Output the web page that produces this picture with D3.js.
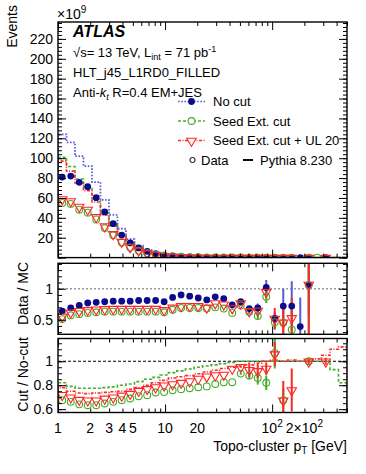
<!DOCTYPE html>
<html>
<head>
<meta charset="utf-8">
<script src="https://cdn.jsdelivr.net/npm/d3@7"></script>
<style>
  body { margin: 0; background: #fff; }
  svg { font-family: "Liberation Sans", Arial, Helvetica, sans-serif; }
</style>
</head>
<body>
<svg id="chart" width="366" height="474"></svg>
<script>
/* ---- binning: 34 log bins, topo-cluster pT [GeV] ---- */
const binEdges = [1, 1.2003, 1.4408, 1.7294, 2.0758, 2.4917, 2.9908, 3.5899, 4.3091,
  5.1723, 6.2084, 7.4521, 8.945, 10.737, 12.888, 15.469, 18.63, 22.36, 26.85, 32.24,
  38.69, 46.45, 55.77, 66.95, 80.36, 96.5, 115.9, 139.1, 167.0, 200.5, 240.7, 288.9,
  346.9, 416.4, 500];

/* ---- main panel, Events x10^9 ---- */
const mcNoCut    = [124, 116, 102, 92, 76, 58, 43, 29, 18.5, 12, 7.8, 4.9, 3.1, 1.9, 1.2, 0.75, 0.48, 0.3, 0.19, 0.12, 0.075, 0.05, 0.03, 0.02, 0.012, 0.008, 0.005, 0.003, 0.002, 0.0012, 0.0008, 0.0005, 0.0003, 0.0002];
const mcSeed     = [101, 91.6, 79, 71.3, 59, 45.2, 33.8, 22.9, 14.8, 10, 6.6, 4.3, 2.8, 1.75, 1.12, 0.7, 0.46, 0.29, 0.18, 0.118, 0.074, 0.05, 0.03, 0.02, 0.012, 0.008, 0.005, 0.003, 0.002, 0.0012, 0.0008, 0.0005, 0.0003, 0.0002];
const mcSeedUL   = [97, 87, 75, 67.2, 55.9, 42.9, 32, 21.8, 14.2, 9.4, 6.2, 4.0, 2.6, 1.63, 1.04, 0.66, 0.43, 0.27, 0.176, 0.113, 0.071, 0.048, 0.029, 0.02, 0.012, 0.008, 0.005, 0.003, 0.002, 0.0012, 0.0008, 0.0005, 0.0003, 0.0002];
const dataNoCut  = [81, 82, 75.7, 71.3, 60.3, 45.9, 34.1, 22.7, 14.8, 9.7, 6.3, 4.0, 2.45, 1.63, 1.08, 0.66, 0.41, 0.25, 0.165, 0.1, 0.055, 0.04, 0.02, 0.014, 0.012, 0.004, 0.0036, 0.0022, 0.0008, 0.0013, null, 0.0005, null, null];
const dataSeed   = [55, 54, 48.2, 45.2, 38.4, 29.7, 22.5, 15.3, 10.2, 6.9, 4.5, 3.0, 1.8, 1.24, 0.83, 0.5, 0.32, 0.2, 0.135, 0.083, 0.046, 0.036, 0.018, 0.012, 0.01, 0.004, 0.003, 0.0015, null, 0.0013, 0.001, null, null, null];
const dataSeedUL = [59, 57, 51.5, 48.5, 41, 31.7, 23.9, 16.1, 10.7, 7.3, 4.8, 3.1, 1.96, 1.3, 0.89, 0.55, 0.35, 0.22, 0.147, 0.09, 0.052, 0.038, 0.02, 0.013, 0.011, 0.004, 0.003, 0.0017, null, 0.0013, null, 0.0008, null, null];

/* ---- Data / MC ---- */
const dmcNoCut     = [0.64, 0.69, 0.73, 0.77, 0.78, 0.79, 0.80, 0.80, 0.80, 0.81, 0.81, 0.81, 0.79, 0.86, 0.90, 0.88, 0.85, 0.82, 0.87, 0.84, 0.74, 0.79, 0.68, 0.69, 1.02, 0.52, 0.72, 0.72, 0.39, 1.06, null, null, null, null];
const dmcNoCutErr  = [0, 0, 0, 0, 0, 0, 0, 0, 0, 0, 0, 0, 0, 0, 0, 0, 0, 0, 0, 0, 0.01, 0.01, 0.03, 0.07, 0.12, 0.1, 0.28, 0.4, 0.47, 0.5, 0, 0, 0, 0];
const dmcSeed      = [0.51, 0.57, 0.59, 0.61, 0.62, 0.63, 0.63, 0.63, 0.63, 0.63, 0.63, 0.63, 0.62, 0.66, 0.69, 0.69, 0.69, 0.68, 0.70, 0.68, 0.61, 0.73, 0.63, 0.56, 0.87, 0.46, 0.45, 0.34, null, 1.06, null, null, null, null];
const dmcSeedErr   = [0, 0, 0, 0, 0, 0, 0, 0, 0, 0, 0, 0, 0, 0, 0, 0, 0, 0, 0, 0, 0.01, 0.01, 0.04, 0.05, 0.1, 0.12, 0.3, 0.35, 0, 1.0, 0, 0, 0, 0];
const dmcSeedUL    = [0.555, 0.62, 0.645, 0.66, 0.67, 0.675, 0.68, 0.68, 0.68, 0.68, 0.68, 0.68, 0.66, 0.70, 0.725, 0.725, 0.725, 0.70, 0.77, 0.75, 0.69, 0.77, 0.64, 0.65, 0.95, 0.52, 0.46, 0.53, null, 1.07, null, null, null, null];
const dmcSeedULErr = [0, 0, 0, 0, 0, 0, 0, 0, 0, 0, 0, 0, 0, 0, 0, 0, 0, 0, 0, 0, 0.01, 0.01, 0.03, 0.05, 0.05, 0.17, 0.3, 0.32, 0, 1.0, 0, 0, 0, 0];

/* ---- Cut / No-cut ---- */
const cutMcSeed       = [0.82, 0.79, 0.775, 0.775, 0.775, 0.78, 0.786, 0.80, 0.81, 0.83, 0.85, 0.865, 0.885, 0.905, 0.92, 0.935, 0.95, 0.96, 0.97, 0.98, 0.99, 1.0, 1.0, 1.0, 1.0, 1.0, 1.0, 1.0, 1.0, 1.0, 1.0, 1.0, 0.93, 0.82];
const cutMcSeedUL     = [0.78, 0.75, 0.735, 0.73, 0.735, 0.74, 0.745, 0.75, 0.765, 0.78, 0.80, 0.82, 0.84, 0.86, 0.87, 0.88, 0.895, 0.91, 0.925, 0.94, 0.95, 0.96, 0.97, 0.985, 1.0, 1.01, 1.0, 1.01, 1.0, 1.0, 1.02, 1.05, 1.1, 1.12];
const cutDataSeed     = [0.675, 0.661, 0.64, 0.633, 0.633, 0.647, 0.661, 0.675, 0.689, 0.708, 0.717, 0.739, 0.744, 0.758, 0.767, 0.775, 0.783, 0.79, 0.81, 0.825, 0.825, 0.897, 0.88, 0.86, 0.82, 1.07, 0.675, null, null, 1.0, null, null, null, null];
const cutDataSeedErr  = [0, 0, 0, 0, 0, 0, 0, 0, 0, 0, 0, 0, 0, 0, 0, 0, 0, 0, 0, 0, 0, 0.01, 0.03, 0.055, 0.06, 0.13, 0.1, 0, 0, 0.02, 0, 0, 0, 0];
const cutDataSeedUL   = [0.72, 0.70, 0.68, 0.675, 0.675, 0.69, 0.70, 0.715, 0.73, 0.755, 0.77, 0.785, 0.80, 0.81, 0.822, 0.835, 0.856, 0.875, 0.885, 0.89, 0.94, 0.955, 0.93, 0.92, 0.94, 1.06, 0.675, 0.76, null, 1.0, null, 1.0, null, null];
const cutDataSeedULErr= [0, 0, 0, 0, 0, 0, 0, 0, 0, 0, 0, 0, 0, 0, 0, 0, 0, 0, 0, 0, 0, 0.01, 0.06, 0.06, 0.05, 0.1, 0.16, 0.18, 0, 0.02, 0, 0.03, 0, 0];

/* ---- axis ticks ---- */
const xMajor = [1, 10, 100];
const xMinor = [2, 3, 4, 5, 6, 7, 8, 9, 20, 30, 40, 50, 60, 70, 80, 90, 200, 300, 400, 500];
const xTickLabels = [[1, "1"], [2, "2"], [3, "3"], [4, "4"], [5, "5"], [10, "10"], [20, "20"], [100, "10", "2"], [200, "2×10", "2"]];
const mainYMajor = d3.range(0, 237, 20);
const mainYMinor = d3.range(0, 237, 4);
const mainYLabels = d3.range(20, 237, 20);
const ratioYMajor = [0.5, 1.0];
const ratioYMinor = [0.3, 0.4, 0.5, 0.6, 0.7, 0.8, 0.9, 1.0, 1.1, 1.2, 1.3, 1.4];
const cutYMajor = [0.6, 0.8, 1.0];
const cutYMinor = [0.6, 0.65, 0.7, 0.75, 0.8, 0.85, 0.9, 0.95, 1.0, 1.05, 1.1, 1.15];

/* ---- colours ---- */
const cBlue = "#0b0b8e", cBlueLine = "#5b5be0", cGreen = "#46ad2c", cRed = "#ff2626";

const svg = d3.select("#chart");
svg.append("rect").attr("width", 366).attr("height", 474).attr("fill", "#fff");

const X0 = 58, X1 = 347;
const x = d3.scaleLog().domain([1, 500]).range([X0, X1]);
const yMain  = d3.scaleLinear([0, 237], [257.6, 22]);
const yRatio = d3.scaleLinear([0.265, 1.41], [334.3, 263.3]);
const yCut   = d3.scaleLinear([0.572, 1.19], [412.5, 338.5]);
const centre = i => Math.sqrt(binEdges[i] * binEdges[i + 1]);

let clipN = 0;
function panel(y) {
  const id = "clip" + (++clipN);
  const [yb, yt] = y.range();
  svg.append("clipPath").attr("id", id)
    .append("rect").attr("x", X0).attr("y", yt).attr("width", X1 - X0).attr("height", yb - yt);
  return svg.append("g").attr("clip-path", `url(#${id})`);
}

function stepPath(vals, y) {
  const base = y.range()[0] + 20;
  const pts = [[x(binEdges[0]), base]];
  vals.forEach((v, i) => {
    pts.push([x(binEdges[i]), y(v)], [x(binEdges[i + 1]), y(v)]);
  });
  pts.push([x(binEdges[vals.length]), base]);
  return d3.line()(pts);
}

function hist(g, vals, y, colour, dash, width) {
  g.append("path").attr("d", stepPath(vals, y))
    .attr("fill", "none").attr("stroke", colour)
    .attr("stroke-width", width).attr("stroke-dasharray", dash);
}

function errBars(g, vals, errs, y, colour, width) {
  vals.forEach((v, i) => {
    if (v == null || !errs[i]) return;
    g.append("line")
      .attr("x1", x(centre(i))).attr("x2", x(centre(i)))
      .attr("y1", y(v - errs[i])).attr("y2", y(v + errs[i]))
      .attr("stroke", colour).attr("stroke-width", width);
  });
}

const triangle = d3.symbol().type(d3.symbolTriangle).size(38)();
function markers(g, vals, y, kind) {
  const pts = vals.map((v, i) => [i, v]).filter(d => d[1] != null);
  if (kind === "dot") {
    g.selectAll(null).data(pts).enter().append("circle")
      .attr("cx", d => x(centre(d[0]))).attr("cy", d => y(d[1])).attr("r", 3.4)
      .attr("fill", cBlue);
  } else if (kind === "ring") {
    g.selectAll(null).data(pts).enter().append("circle")
      .attr("cx", d => x(centre(d[0]))).attr("cy", d => y(d[1])).attr("r", 3.4)
      .attr("fill", "none").attr("stroke", cGreen).attr("stroke-width", 1.1);
  } else {
    g.selectAll(null).data(pts).enter().append("path")
      .attr("d", triangle)
      .attr("transform", d => `translate(${x(centre(d[0]))},${y(d[1]) + 0.5}) rotate(180)`)
      .attr("fill", "none").attr("stroke", cRed).attr("stroke-width", 1.1);
  }
}

function axes(y, yMajor, yMinor, yLabels, yFmt) {
  const g = svg.append("g");
  const [yb, yt] = y.range();
  const put = (axis, tr) => g.append("g").attr("transform", tr).call(axis)
    .call(s => s.select(".domain").remove());
  put(d3.axisLeft(y).tickValues(yMajor).tickSize(-8).tickFormat(""), `translate(${X0},0)`);
  put(d3.axisLeft(y).tickValues(yMinor).tickSize(-4).tickFormat(""), `translate(${X0},0)`);
  put(d3.axisRight(y).tickValues(yMajor).tickSize(-8).tickFormat(""), `translate(${X1},0)`);
  put(d3.axisRight(y).tickValues(yMinor).tickSize(-4).tickFormat(""), `translate(${X1},0)`);
  put(d3.axisBottom(x).tickValues(xMajor).tickSize(-8).tickFormat(""), `translate(0,${yb})`);
  put(d3.axisBottom(x).tickValues(xMinor).tickSize(-4).tickFormat(""), `translate(0,${yb})`);
  put(d3.axisTop(x).tickValues(xMajor).tickSize(-8).tickFormat(""), `translate(0,${yt})`);
  put(d3.axisTop(x).tickValues(xMinor).tickSize(-4).tickFormat(""), `translate(0,${yt})`);
  g.selectAll(".tick line").attr("stroke", "#000");
  g.append("rect").attr("x", X0).attr("y", yt).attr("width", X1 - X0).attr("height", yb - yt)
    .attr("fill", "none").attr("stroke", "#000").attr("stroke-width", 1.4);
  g.selectAll(null).data(yLabels).enter().append("text")
    .attr("x", 53).attr("y", d => y(d)).attr("dy", "0.36em")
    .attr("text-anchor", "end").attr("font-size", 14)
    .text(yFmt);
}

/* ---- main panel ---- */
const gMain = panel(yMain);
hist(gMain, mcNoCut, yMain, cBlueLine, "1.6,1.6", 1.8);
hist(gMain, mcSeed, yMain, cGreen, "3,2", 1.6);
hist(gMain, mcSeedUL, yMain, cRed, "3,1.5,1,1.5", 1.6);
markers(gMain, dataNoCut, yMain, "dot");
markers(gMain, dataSeed, yMain, "ring");
markers(gMain, dataSeedUL, yMain, "tri");
axes(yMain, mainYMajor, mainYMinor, mainYLabels, d => d);

/* ---- Data / MC panel ---- */
const gRatio = panel(yRatio);
gRatio.append("line").attr("x1", X0).attr("x2", X1)
  .attr("y1", yRatio(1)).attr("y2", yRatio(1))
  .attr("stroke", "#999").attr("stroke-width", 1.6).attr("stroke-dasharray", "2,2");
errBars(gRatio, dmcNoCut, dmcNoCutErr, yRatio, "#5a5ad0", 2);
errBars(gRatio, dmcSeed, dmcSeedErr, yRatio, cGreen, 2);
errBars(gRatio, dmcSeedUL, dmcSeedULErr, yRatio, cRed, 2);
markers(gRatio, dmcNoCut, yRatio, "dot");
markers(gRatio, dmcSeed, yRatio, "ring");
markers(gRatio, dmcSeedUL, yRatio, "tri");
axes(yRatio, ratioYMajor, ratioYMinor, [0.5, 1], d => d === 1 ? "1" : "0.5");

/* ---- Cut / No-cut panel ---- */
const gCut = panel(yCut);
gCut.append("line").attr("x1", X0).attr("x2", X1)
  .attr("y1", yCut(1)).attr("y2", yCut(1))
  .attr("stroke", "#000").attr("stroke-width", 1).attr("stroke-dasharray", "3,2");
hist(gCut, cutMcSeed, yCut, cGreen, "3,2", 1.6);
hist(gCut, cutMcSeedUL, yCut, cRed, "3,1.5,1,1.5", 1.6);
errBars(gCut, cutDataSeed, cutDataSeedErr, yCut, cGreen, 2);
errBars(gCut, cutDataSeedUL, cutDataSeedULErr, yCut, cRed, 2);
markers(gCut, cutDataSeed, yCut, "ring");
markers(gCut, cutDataSeedUL, yCut, "tri");
axes(yCut, cutYMajor, cutYMinor, [0.6, 0.8, 1], d => d === 1 ? "1" : d.toFixed(1));

/* ---- x tick labels + titles ---- */
const xl = svg.append("g").attr("font-size", 14).attr("text-anchor", "middle");
xTickLabels.forEach(([v, t, sup]) => {
  const tx = xl.append("text").attr("x", x(v)).attr("y", 433).text(t);
  if (sup) tx.append("tspan").attr("dy", -6).attr("font-size", 10).text(sup);
});
const xt = svg.append("text").attr("x", 347).attr("y", 451).attr("text-anchor", "end").attr("font-size", 14);
xt.append("tspan").text("Topo-cluster p");
xt.append("tspan").attr("font-size", 10).attr("dy", 3).text("T");
xt.append("tspan").attr("dy", -3).text(" [GeV]");

const ytitle = (t, xPos, yEnd) => svg.append("text")
  .attr("transform", `translate(${xPos},${yEnd}) rotate(-90)`)
  .attr("text-anchor", "end").attr("font-size", 14).text(t);
ytitle("Events", 17, 5);
ytitle("Data / MC", 28, 262);
ytitle("Cut / No-cut", 28, 337);

const ex = svg.append("text").attr("x", 57).attr("y", 19).attr("font-size", 14).text("×10");
ex.append("tspan").attr("dy", -6).attr("font-size", 10).text("9");

/* ---- labels ---- */
svg.append("text").attr("x", 73).attr("y", 37).attr("font-size", 16)
  .attr("font-weight", "bold").attr("font-style", "italic").text("ATLAS");
const t1 = svg.append("text").attr("x", 73).attr("y", 57).attr("font-size", 13);
t1.append("tspan").text("√s= 13 TeV, L");
t1.append("tspan").attr("font-size", 9).attr("dy", 3).text("int");
t1.append("tspan").attr("dy", -3).text(" = 71 pb");
t1.append("tspan").attr("font-size", 9).attr("dy", -5).text("-1");
svg.append("text").attr("x", 73).attr("y", 77).attr("font-size", 13).text("HLT_j45_L1RD0_FILLED");
const t3 = svg.append("text").attr("x", 73).attr("y", 97).attr("font-size", 13);
t3.append("tspan").text("Anti-");
t3.append("tspan").attr("font-style", "italic").text("k");
t3.append("tspan").attr("font-style", "italic").attr("font-size", 9).attr("dy", 3).text("t");
t3.append("tspan").attr("dy", -3).text(" R=0.4 EM+JES");

/* ---- legend ---- */
const leg = svg.append("g").attr("font-size", 13);
const legRows = [
  {label: "No cut", colour: cBlueLine, dash: "1.6,1.6", kind: "dot", y: 106},
  {label: "Seed Ext. cut", colour: cGreen, dash: "3,2", kind: "ring", y: 125.5},
  {label: "Seed Ext. cut + UL 20", colour: cRed, dash: "3,1.5,1,1.5", kind: "tri", y: 145}
];
legRows.forEach(r => {
  const cy = r.y - 4.5;
  leg.append("line").attr("x1", 178).attr("x2", 205).attr("y1", cy).attr("y2", cy)
    .attr("stroke", r.colour).attr("stroke-width", 1.6).attr("stroke-dasharray", r.dash);
  if (r.kind === "dot") leg.append("circle").attr("cx", 191.5).attr("cy", cy).attr("r", 3.4).attr("fill", cBlue);
  else if (r.kind === "ring") leg.append("circle").attr("cx", 191.5).attr("cy", cy).attr("r", 3.4)
    .attr("fill", "#fff").attr("stroke", cGreen).attr("stroke-width", 1.1);
  else leg.append("path").attr("d", triangle).attr("transform", `translate(191.5,${cy + 0.5}) rotate(180)`)
    .attr("fill", "#fff").attr("stroke", cRed).attr("stroke-width", 1.1);
  leg.append("text").attr("x", 213).attr("y", r.y).text(r.label);
});
leg.append("circle").attr("cx", 192.5).attr("cy", 160).attr("r", 2.6)
  .attr("fill", "none").attr("stroke", "#000").attr("stroke-width", 1);
leg.append("text").attr("x", 201).attr("y", 164.5).text("Data");
leg.append("line").attr("x1", 243).attr("x2", 253).attr("y1", 160).attr("y2", 160)
  .attr("stroke", "#000").attr("stroke-width", 2);
leg.append("text").attr("x", 260).attr("y", 164.5).text("Pythia 8.230");
</script>
</body>
</html>
